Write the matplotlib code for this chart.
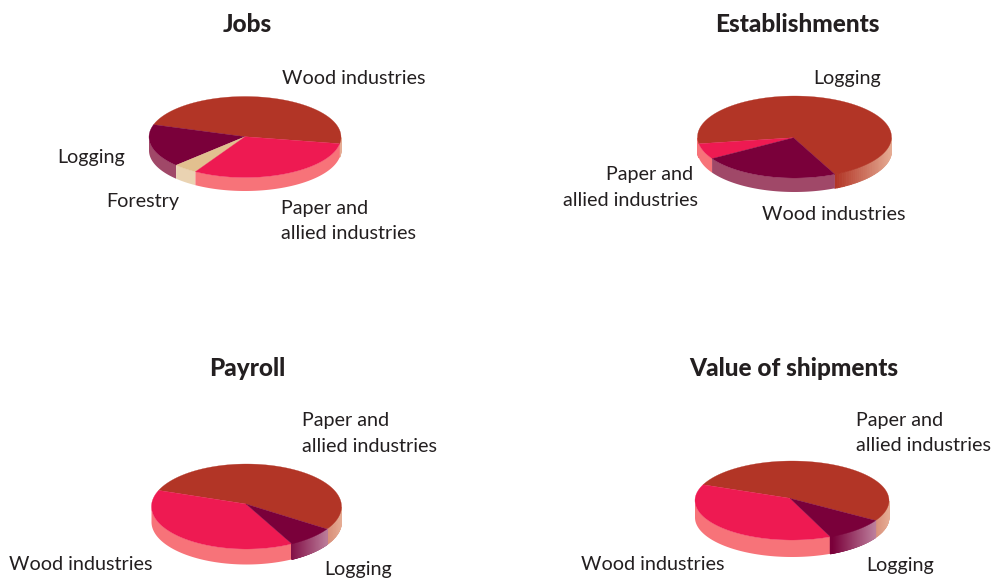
import numpy as np
import matplotlib
matplotlib.use('Agg')
import matplotlib.pyplot as plt
from matplotlib.collections import PolyCollection
from matplotlib.colors import to_rgb

# share of each sector, percent, counter-clockwise from the start angle
jobs_vals = [47.7, 17.2, 4.1, 31.0]
jobs_cols = ['brick', 'purple', 'tan', 'pink']
estab_vals = [70.8, 6.2, 23.0]
estab_cols = ['brick', 'pink', 'purple']
payroll_vals = [52.7, 39.1, 8.2]
payroll_cols = ['brick', 'pink', 'purple']
value_vals = [51.9, 38.0, 10.1]
value_cols = ['brick', 'pink', 'purple']

top_cols = {'brick': '#B23526', 'purple': '#7A003A', 'tan': '#E2C08F', 'pink': '#EE1A52'}
side_cols = {'brick': '#F77379', 'purple': '#A04868', 'tan': '#EAD3B2', 'pink': '#F77379'}
fade_to = {'brick': '#EBB9A0', 'purple': '#FFFFFF'}
fade_amt = {'brick': 0.9, 'purple': 0.65}


def mix(c, target, amt):
    c = np.array(to_rgb(c))
    return tuple(c + (np.array(to_rgb(target)) - c) * amt)


def pie3d(ax, vals, colors, start, cx, cy, ax_x, ax_y, rx, ry, depth):
    a0 = start
    for name, v in zip(colors, vals):
        a1 = a0 + v * 3.6
        t = np.radians(np.linspace(a0, a1, 160))
        xs = cx + rx * np.cos(t)
        ys = cy - ry * np.sin(t)

        # side wall, only the part on the near half of the ellipse
        near = np.sin(t) <= 0
        s0 = a0 % 360
        if near.any():
            if s0 >= 270:
                # sectors that start low on the right fade out towards the edge
                polys = []
                cols = []
                for k in range(len(t) - 1):
                    if not (near[k] and near[k + 1]):
                        continue
                    polys.append([(xs[k], ys[k]), (xs[k + 1], ys[k + 1]),
                                  (xs[k + 1], ys[k + 1] + depth), (xs[k], ys[k] + depth)])
                    if np.cos(t[k]) < 0:
                        cols.append(to_rgb(side_cols[name]))
                    else:
                        f = np.clip((np.cos(t[k]) - 0.42) / 0.58, 0, 1)
                        cols.append(mix(top_cols[name], fade_to[name], fade_amt[name] * f))
                ax.add_collection(PolyCollection(polys, facecolors=cols, edgecolors=cols, linewidths=0.7))
            else:
                xn, yn = xs[near], ys[near]
                ax.fill(np.r_[xn, xn[::-1]], np.r_[yn, yn[::-1] + depth], color=side_cols[name], lw=0)

        ax.fill(np.r_[ax_x, xs], np.r_[ax_y, ys], color=top_cols[name], lw=0.2)
        a0 = a1


fig = plt.figure(figsize=(9.93, 5.80), dpi=100)
ax = fig.add_axes([0, 0, 1, 1])
ax.set_xlim(0, 993)
ax.set_ylim(580, 0)
ax.axis('off')

pie3d(ax, jobs_vals, jobs_cols, -9.5, 245, 137, 245, 136.7, 96, 40.5, 13.5)
pie3d(ax, estab_vals, estab_cols, -65.4, 794.5, 137, 793.5, 137.7, 97, 41, 14)
pie3d(ax, payroll_vals, payroll_cols, -32, 246.5, 506.5, 246, 504, 95, 42.5, 15.5)
pie3d(ax, value_vals, value_cols, -30.4, 792, 500.5, 790, 498.3, 97, 39.5, 17)

txt = dict(family='Lato', fontsize=14.2, color='#231F20', va='center')
ttl = dict(family='Lato', fontsize=17.6, color='#231F20', va='center', ha='center', fontweight=900)

ax.text(247, 24, 'Jobs', **ttl)
ax.text(797, 24, 'Establishments', **ttl)
ax.text(247, 369, 'Payroll', **ttl)
ax.text(794, 369, 'Value of shipments', **ttl)

ax.text(282, 78, 'Wood industries', **txt)
ax.text(57, 157.5, 'Logging', **txt)
ax.text(106, 201.5, 'Forestry', **txt)
ax.text(281, 208.5, 'Paper and', **txt)
ax.text(281, 233.5, 'allied industries', **txt)

ax.text(813, 78.5, 'Logging', **txt)
ax.text(606, 174.5, 'Paper and', **txt)
ax.text(563, 200.5, 'allied industries', **txt)
ax.text(762, 214.5, 'Wood industries', **txt)

ax.text(302, 420.5, 'Paper and', **txt)
ax.text(302, 446.5, 'allied industries', **txt)
ax.text(9, 564.5, 'Wood industries', **txt)
ax.text(324, 569.5, 'Logging', **txt)

ax.text(856, 420.5, 'Paper and', **txt)
ax.text(856, 445.5, 'allied industries', **txt)
ax.text(581, 564.5, 'Wood industries', **txt)
ax.text(866, 565.5, 'Logging', **txt)

fig.savefig('out.png', dpi=100)
